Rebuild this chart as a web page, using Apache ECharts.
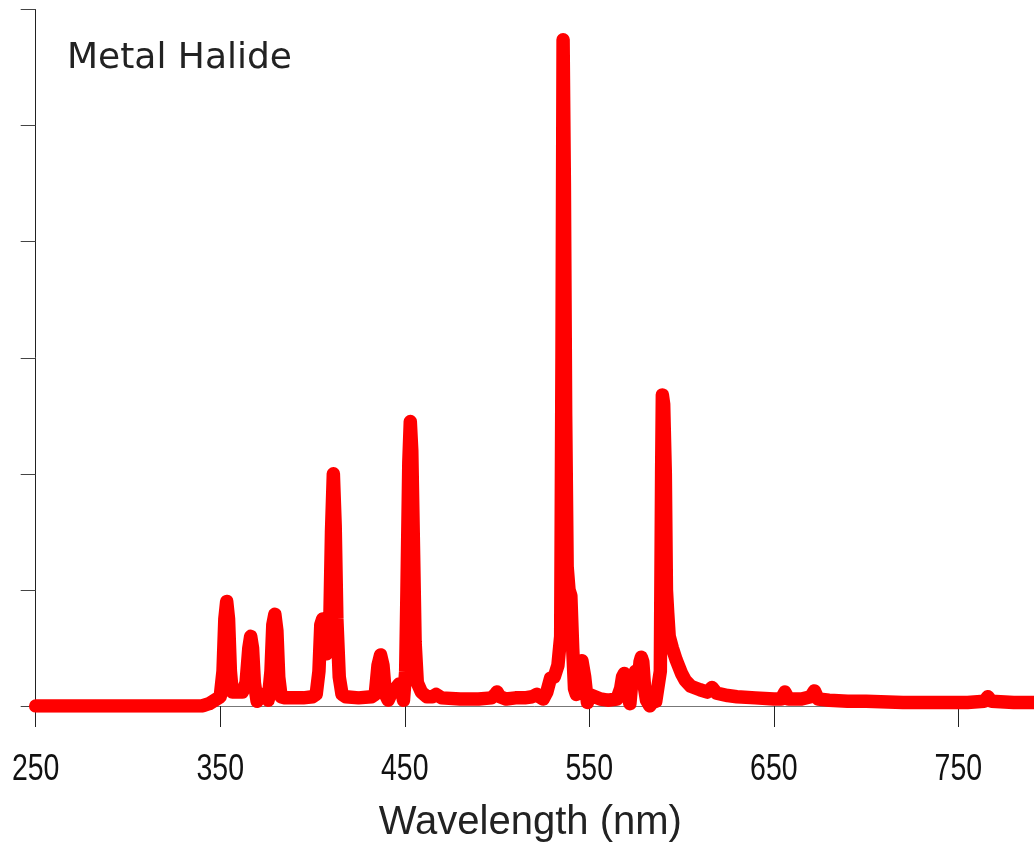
<!DOCTYPE html>
<html>
<head>
<meta charset="utf-8">
<title>Metal Halide</title>
<script src="https://cdn.jsdelivr.net/npm/echarts@6/dist/echarts.min.js"></script>
<style>
  html, body { margin: 0; padding: 0; background: #fff; }
  #chart { width: 1034px; height: 842px; }
</style>
</head>
<body>
<div id="chart"></div>
<script>
// wavelength (nm) and relative intensity
var wavelength = [
  250, 280, 300, 320, 340, 344, 347, 350,
  351.5, 352.5, 353.5, 354.5, 355.5, 356.5, 358, 362,
  364, 365.5, 366.5, 367.5, 368.5, 370, 372, 374, 376,
  377.5, 378.5, 379.6, 380.7, 381.7, 383, 385, 390, 395, 400,
  402, 403.5, 404.5, 405.5, 406.5, 407.5, 409.3, 410.3, 411.3, 412.3, 413.2, 414.5, 416, 418,
  425, 432, 434, 435.5, 436.9, 438.2, 439.5, 441, 443, 445, 447, 448.3, 449.3,
  450.5, 451.2, 452.2, 453, 453.8, 454.8, 455.6, 456.8, 459, 462, 465, 467, 470,
  480, 490, 497, 499, 500, 501.5, 505, 510, 515, 519, 521.6, 523, 525, 527, 529,
  531, 533, 534.5, 535.2, 535.8, 536.5, 537.2, 538, 539, 540, 541, 542, 543,
  544.5, 546, 547.5, 549, 550, 553, 556, 560, 565, 567, 568, 569, 570, 571, 572,
  573, 575, 576.5, 577.5, 578.2, 579, 580, 581, 582.8, 584, 586, 588.5,
  589.2, 589.6, 590.3, 591.2, 591.8, 592.5, 593.3, 595, 597, 600, 602, 605, 610, 614,
  616.5, 619, 625, 630, 640, 650, 654, 656, 658, 665, 670, 672, 674, 680,
  690, 700, 720, 740, 755, 764, 766, 768, 780, 791
];
var intensity = [
  0.0, 0.0, 0.0, 0.0, 0.0, 0.02, 0.05, 0.08,
  0.3, 0.75, 0.9, 0.75, 0.3, 0.12, 0.12, 0.12,
  0.2, 0.5, 0.6, 0.5, 0.2, 0.04, 0.1, 0.1, 0.05,
  0.3, 0.7, 0.79, 0.65, 0.25, 0.08, 0.07, 0.07, 0.07, 0.08,
  0.1, 0.3, 0.7, 0.75, 0.6, 0.45, 0.65, 1.5, 2.0, 1.55, 0.75, 0.25, 0.1, 0.08,
  0.07, 0.08, 0.1, 0.35, 0.44, 0.35, 0.1, 0.05, 0.12, 0.15, 0.19, 0.15, 0.05,
  0.3, 1.0, 2.1, 2.45, 2.2, 1.3, 0.55, 0.2, 0.12, 0.08, 0.08, 0.1, 0.07,
  0.06, 0.06, 0.07, 0.1, 0.12, 0.08, 0.06, 0.07, 0.07, 0.08, 0.1, 0.08, 0.06, 0.12, 0.24,
  0.25, 0.35, 0.6, 3.0, 5.74, 4.5, 2.5, 1.2, 1.0, 0.95, 0.5, 0.15, 0.1,
  0.3, 0.39, 0.25, 0.03, 0.1, 0.08, 0.06, 0.05, 0.06, 0.15, 0.25, 0.28, 0.22, 0.1, 0.02,
  0.2, 0.3, 0.2, 0.38, 0.42, 0.38, 0.15, 0.05, 0.0, 0.03, 0.04, 0.3,
  2.0, 2.68, 2.6, 2.0, 1.0, 0.8, 0.6, 0.5, 0.4, 0.28, 0.22, 0.17, 0.14, 0.12,
  0.16, 0.11, 0.09, 0.08, 0.07, 0.06, 0.06, 0.12, 0.06, 0.06, 0.08, 0.13, 0.06, 0.05,
  0.04, 0.04, 0.03, 0.03, 0.03, 0.04, 0.08, 0.04, 0.03, 0.03
];
var xTicks = [250, 350, 450, 550, 650, 750];

var points = wavelength.map(function (w, i) { return [w, intensity[i]]; });

var chart = echarts.init(document.getElementById('chart'), null, {renderer: 'canvas'});
chart.setOption({
  animation: false,
  backgroundColor: '#ffffff',
  title: {
    text: 'Metal Halide',
    left: 67,
    top: 41,
    padding: 0,
    textStyle: {
      fontFamily: 'DejaVu Sans',
      fontSize: 36,
      fontWeight: 'normal',
      color: '#222222'
    }
  },
  grid: {
    left: 35.7,
    right: 0,
    top: 9.5,
    bottom: 136,
    containLabel: false,
    outerBoundsMode: 'none'
  },
  xAxis: {
    type: 'value',
    min: 250,
    max: 791,
    name: 'Wavelength (nm)',
    nameLocation: 'middle',
    nameGap: 97,
    nameTextStyle: {
      fontFamily: 'Liberation Sans',
      fontSize: 40,
      color: '#222222',
      padding: [0, 9, 0, 0]
    },
    axisLine: {show: true, onZero: false, lineStyle: {color: '#777777', width: 1}},
    axisTick: {show: true, inside: false, length: 21, customValues: xTicks, lineStyle: {color: '#222222', width: 1}},
    axisLabel: {show: false},
    splitLine: {show: false}
  },
  yAxis: {
    type: 'value',
    min: 0,
    max: 6,
    interval: 1,
    axisLine: {show: true, lineStyle: {color: '#222222', width: 1}},
    axisTick: {show: true, inside: false, length: 15, lineStyle: {color: '#444444', width: 1}},
    axisLabel: {show: false},
    splitLine: {show: false}
  },
  series: [{
    type: 'line',
    data: points,
    showSymbol: false,
    symbol: 'none',
    smooth: false,
    clip: true,
    lineStyle: {color: '#ff0000', width: 13.5, cap: 'round', join: 'round'}
  }]
});

// tick labels in a narrow face: placed from the axis scale, squeezed horizontally
var axisY = chart.convertToPixel({yAxisIndex: 0}, 0);
chart.setOption({
  graphic: xTicks.map(function (v) {
    return {
      type: 'text',
      x: chart.convertToPixel({xAxisIndex: 0}, v),
      y: axisY + 45,
      scaleX: 0.77,
      style: {
        text: String(v),
        fontFamily: 'Liberation Sans',
        fontSize: 37,
        fill: '#111111',
        align: 'center',
        verticalAlign: 'top'
      }
    };
  })
});
</script>
</body>
</html>
